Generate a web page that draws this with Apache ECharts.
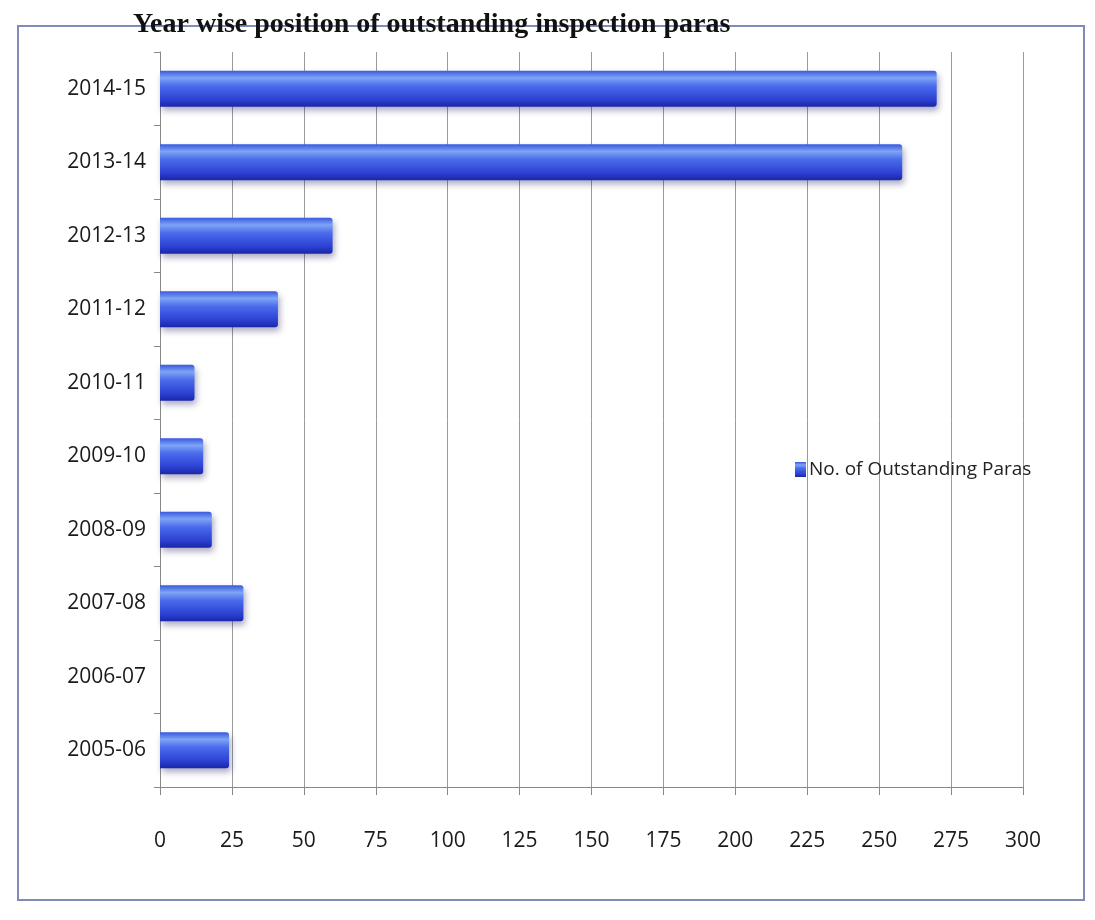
<!DOCTYPE html>
<html>
<head>
<meta charset="utf-8">
<script src="https://cdn.jsdelivr.net/npm/echarts@6/dist/echarts.min.js"></script>
<style>
  html, body { margin: 0; padding: 0; background: #ffffff; }
  #chart { width: 1095px; height: 920px; }
</style>
</head>
<body>
<div id="chart"></div>
<script>
var titleText = 'Year wise position of outstanding inspection paras';
var seriesName = 'No. of Outstanding Paras';
var categories = ['2005-06', '2006-07', '2007-08', '2008-09', '2009-10', '2010-11', '2011-12', '2012-13', '2013-14', '2014-15'];
var values = [24, 0, 29, 18, 15, 12, 41, 60, 258, 270];
var xMin = 0, xMax = 300, xStep = 25;

var chart = echarts.init(document.getElementById('chart'), null, { renderer: 'canvas' });

var barGradient = new echarts.graphic.LinearGradient(0, 0, 0, 1, [
  { offset: 0, color: '#3a58e0' },
  { offset: 0.2, color: '#7ea4f4' },
  { offset: 0.42, color: '#4a6cec' },
  { offset: 0.8, color: '#2c40d2' },
  { offset: 1, color: '#1a26a6' }
]);

chart.setOption({
  backgroundColor: '#ffffff',
  animation: false,
  title: {
    text: titleText,
    left: 128,
    top: 6,
    textStyle: { fontFamily: 'Liberation Serif', fontWeight: 'bold', fontSize: 28, color: '#111' }
  },
  graphic: [{
    type: 'rect',
    shape: { x: 18, y: 26, width: 1066, height: 874 },
    style: { fill: 'none', stroke: '#7f8cb8', lineWidth: 2 },
    z: -1
  }],
  legend: {
    left: 790,
    top: 455,
    itemWidth: 11,
    itemHeight: 15,
    itemGap: 4,
    data: [{ name: seriesName, icon: 'rect' }],
    textStyle: { fontFamily: 'Open Sans', fontSize: 19, color: '#222', padding: [0, 0, 0, -2] }
  },
  grid: { left: 160, right: 72, top: 52, bottom: 133, containLabel: false },
  xAxis: {
    type: 'value',
    min: xMin,
    max: xMax,
    interval: xStep,
    axisLine: { show: true, lineStyle: { color: '#888', width: 1 } },
    axisTick: { show: true, length: 8, lineStyle: { color: '#888' } },
    splitLine: { show: true, lineStyle: { color: '#9a9a9a', width: 1 } },
    axisLabel: { margin: 44, fontFamily: 'Open Sans', fontSize: 21, color: '#1a1a1a' }
  },
  yAxis: {
    type: 'category',
    data: categories,
    axisLine: { show: true, lineStyle: { color: '#888', width: 1 } },
    axisTick: { show: true, length: 6, lineStyle: { color: '#888' } },
    axisLabel: { margin: 14, fontFamily: 'Open Sans', fontSize: 21, color: '#1a1a1a' }
  },
  series: [{
    name: seriesName,
    type: 'bar',
    data: values,
    barWidth: 36,
    itemStyle: {
      color: barGradient,
      borderWidth: 0,
      borderRadius: [0, 3, 3, 0],
      shadowColor: 'rgba(20,20,90,0.35)',
      shadowBlur: 6,
      shadowOffsetY: 4,
      shadowOffsetX: 2
    }
  }],
  color: ['#3d5fe0']
});
</script>
</body>
</html>
